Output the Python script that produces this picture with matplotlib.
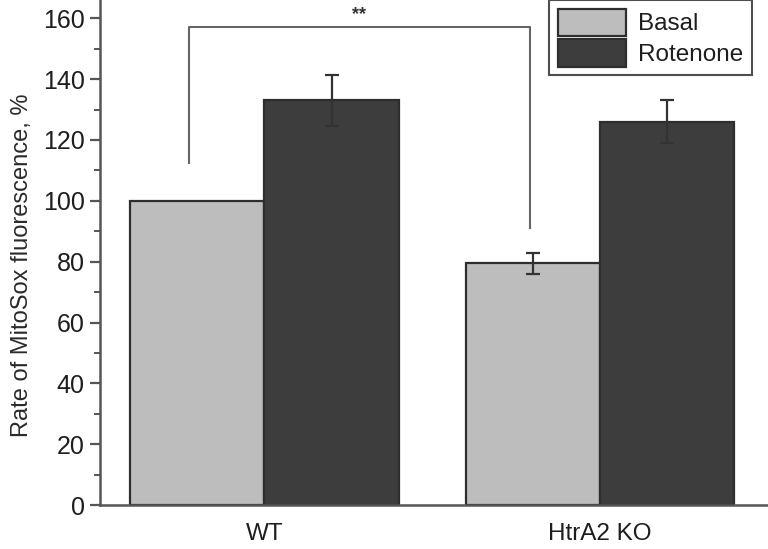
"""Rate of MitoSox fluorescence, basal vs rotenone, WT and HtrA2 KO."""

import matplotlib.pyplot as plt
import numpy as np
from matplotlib.ticker import MultipleLocator

plt.rcParams["font.family"] = ["Liberation Sans", "DejaVu Sans"]

groups = ["WT", "HtrA2 KO"]
basal = [100.0, 79.5]
basal_err = [0.0, 3.5]
rotenone = [133.0, 126.0]
rotenone_err = [8.5, 7.0]

BASAL_COLOR = "#bdbdbd"
ROTENONE_COLOR = "#3d3d3d"
EDGE = "#2e2e2e"
AXIS_GREY = "#555555"
TEXT = "#1e1e1e"

fig = plt.figure(figsize=(7.68, 5.49), dpi=100)
ax = fig.add_axes([0.130, 0.080, 0.870, 0.920])

x = np.arange(len(groups))
width = 0.4
err_style = dict(ecolor="#333333", elinewidth=1.6, capsize=5, capthick=1.6)

ax.bar(x - width / 2, basal, width, color=BASAL_COLOR, edgecolor=EDGE,
       linewidth=1.6, label="Basal", zorder=2)
ax.errorbar(x[1:] - width / 2, basal[1:], yerr=basal_err[1:], fmt="none",
            zorder=3, **err_style)
ax.bar(x + width / 2, rotenone, width, color=ROTENONE_COLOR, edgecolor=EDGE,
       linewidth=1.6, label="Rotenone", zorder=2)
ax.errorbar(x + width / 2, rotenone, yerr=rotenone_err, fmt="none",
            zorder=3, **err_style)

# significance bracket between WT basal and HtrA2 KO basal
left_x, right_x = -0.225, 0.79
ax.plot([left_x, left_x, right_x, right_x], [112.5, 157, 157, 91],
        color="#666666", linewidth=1.5, zorder=1)
ax.text((left_x + right_x) / 2, 158.3, "**", ha="center", va="bottom",
        fontsize=13, fontweight="bold", color="#333333")

ax.set_xlim(-0.49, 1.5)
ax.set_ylim(0, 166)
ax.set_xticks(x)
ax.set_xticklabels(groups, fontsize=17.5, color=TEXT)
ax.tick_params(axis="x", length=0, pad=13)
ax.yaxis.set_major_locator(MultipleLocator(20))
ax.yaxis.set_minor_locator(MultipleLocator(10))
ax.tick_params(axis="y", which="major", direction="out", length=7, width=1.6,
               color=AXIS_GREY, labelsize=18, labelcolor=TEXT, pad=4)
ax.tick_params(axis="y", which="minor", direction="out", length=4, width=1.4,
               color=AXIS_GREY)
ax.set_ylabel("Rate of MitoSox fluorescence, %", fontsize=17, color="#2a2a2a")
ax.yaxis.set_label_coords(-0.1, 0.475)

for side in ("top", "right"):
    ax.spines[side].set_visible(False)
for side in ("left", "bottom"):
    ax.spines[side].set_color(AXIS_GREY)
    ax.spines[side].set_linewidth(1.8)

legend = ax.legend(loc="upper right", bbox_to_anchor=(0.976, 1.0), fontsize=17.5,
                   frameon=True, fancybox=False, edgecolor="#222222",
                   handlelength=2.8, handleheight=1.35, borderpad=0.35,
                   labelspacing=0.15, handletextpad=0.5, borderaxespad=0)
legend.get_frame().set_linewidth(1.5)
for text in legend.get_texts():
    text.set_color(TEXT)

fig.savefig("out.png", dpi=100)
plt.close(fig)
